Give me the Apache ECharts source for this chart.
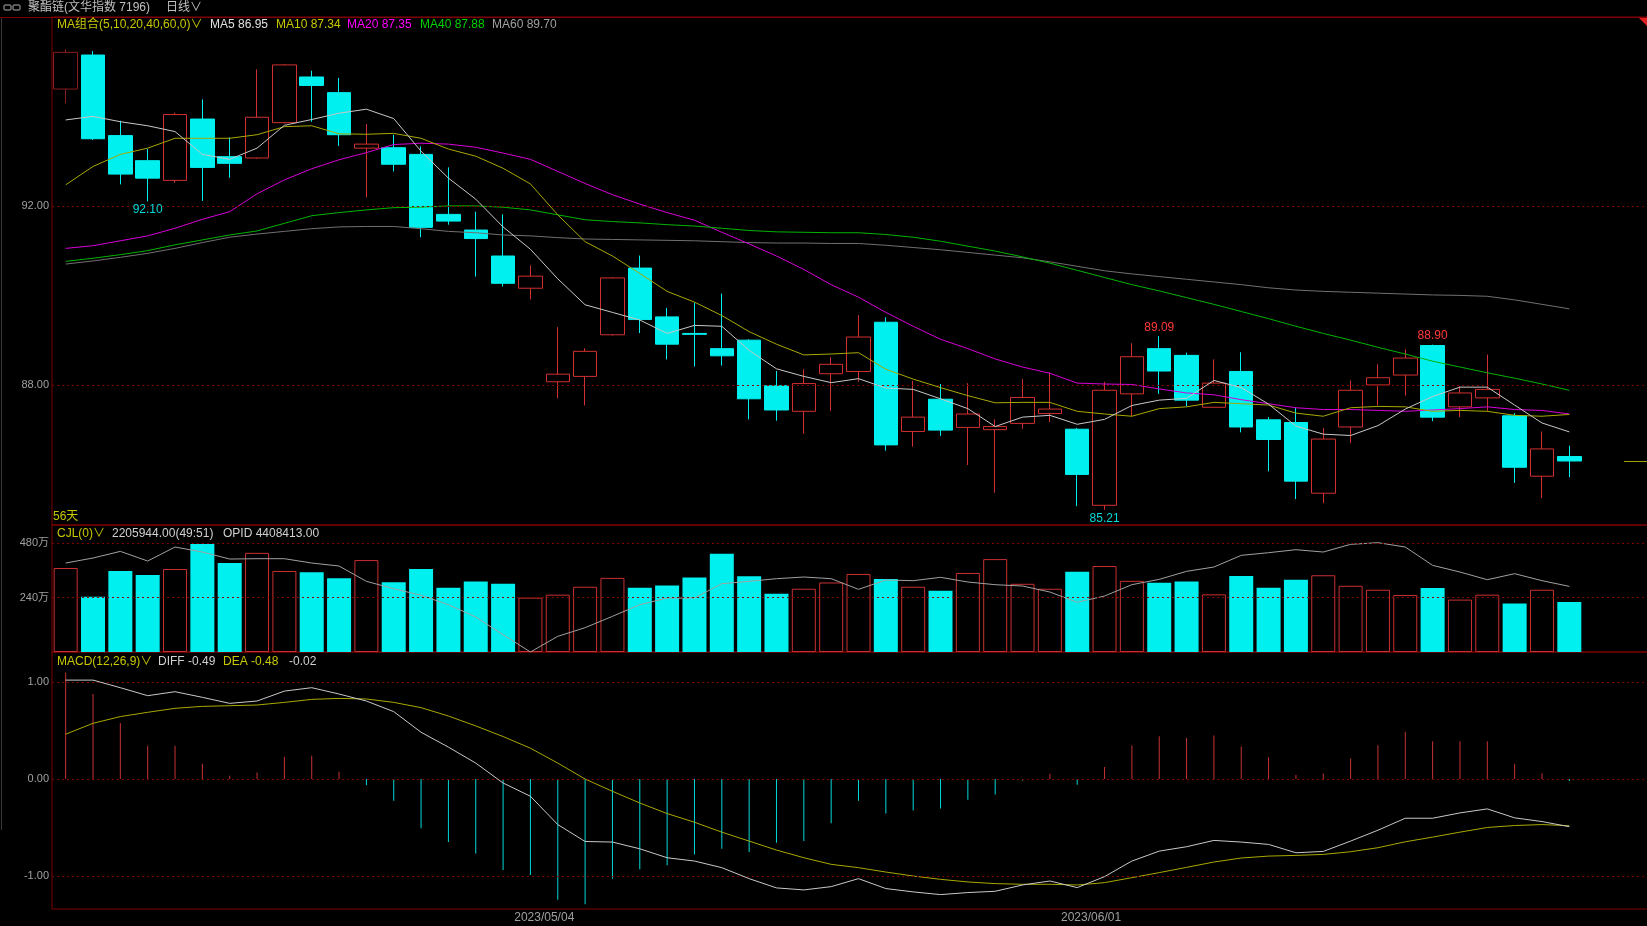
<!DOCTYPE html>
<html><head><meta charset="utf-8">
<script src="https://cdn.jsdelivr.net/npm/echarts@6/dist/echarts.min.js"></script>
<style>html,body{margin:0;padding:0;background:#000;}#c{width:1647px;height:926px;}</style>
</head><body><div id="c"></div>
<script>
// ---------- data ----------
const dates = [
'2023/04/04','2023/04/06','2023/04/07','2023/04/10','2023/04/11','2023/04/12','2023/04/13','2023/04/14','2023/04/17','2023/04/18',
'2023/04/19','2023/04/20','2023/04/21','2023/04/24','2023/04/25','2023/04/26','2023/04/27','2023/04/28','2023/05/04','2023/05/05',
'2023/05/08','2023/05/09','2023/05/10','2023/05/11','2023/05/12','2023/05/15','2023/05/16','2023/05/17','2023/05/18','2023/05/19',
'2023/05/22','2023/05/23','2023/05/24','2023/05/25','2023/05/26','2023/05/29','2023/05/30','2023/05/31','2023/06/01','2023/06/02',
'2023/06/05','2023/06/06','2023/06/07','2023/06/08','2023/06/09','2023/06/12','2023/06/13','2023/06/14','2023/06/15','2023/06/16',
'2023/06/19','2023/06/20','2023/06/21','2023/06/26','2023/06/27','2023/06/28'];
const blanks = [' ', '  ', '   '];
const open = [
94.61,95.37,93.57,93.01,92.57,93.94,93.10,93.07,93.86,94.88,
94.53,93.29,93.30,93.15,91.81,91.46,90.88,90.16,88.07,88.19,
89.12,90.61,89.52,89.15,88.81,89.00,87.98,87.41,88.25,88.30,
89.40,86.96,87.68,87.05,87.00,87.14,87.36,87.01,85.31,87.80,
88.81,88.66,87.50,88.30,87.22,87.16,85.58,87.06,88.00,88.22,
88.88,87.51,87.71,87.31,85.96,86.40];
const close = [
95.43,93.50,92.71,92.62,94.04,92.86,92.95,93.98,95.15,94.69,
93.59,93.38,92.93,91.52,91.66,91.27,90.27,90.43,88.24,88.75,
90.39,89.46,88.91,89.13,88.65,87.69,87.44,88.03,88.46,89.07,
86.66,87.28,86.99,87.35,87.07,87.72,87.46,86.00,87.88,88.63,
88.31,87.66,88.04,87.06,86.78,85.85,86.79,87.88,88.16,88.60,
87.28,87.82,87.90,86.16,86.57,86.30];
const low = [
94.29,93.47,92.48,92.10,92.52,92.11,92.63,93.05,93.84,93.88,
93.34,92.19,92.77,91.30,91.58,90.42,90.20,89.91,87.70,87.54,
89.10,89.16,88.57,88.41,88.43,87.23,87.20,86.91,87.42,88.07,
86.53,86.62,86.86,86.21,85.59,87.02,87.17,85.29,85.21,87.30,
87.80,87.52,87.50,86.94,86.07,85.45,85.36,86.70,87.54,87.76,
87.19,87.28,87.41,85.81,85.47,85.94];
const high = [
95.50,95.46,93.90,93.27,94.08,94.38,93.53,95.05,95.17,95.02,
94.86,93.83,93.59,93.33,92.86,91.87,91.81,90.67,89.29,88.82,
90.41,90.89,89.72,89.84,90.04,89.02,88.31,88.35,88.62,89.56,
89.51,88.09,88.02,88.04,87.23,88.13,88.28,87.04,88.07,88.93,
89.09,88.72,88.57,88.73,87.28,87.49,87.04,88.10,88.46,88.79,
88.90,87.97,88.68,87.37,86.96,86.64];
const ma5 = [
93.92,94.00,93.88,93.79,93.66,93.15,93.04,93.29,93.80,93.93,
94.07,94.16,93.95,93.22,92.62,92.15,91.53,91.03,90.37,89.79,
89.62,89.45,89.15,89.33,89.31,88.77,88.36,88.19,88.05,88.14,
87.93,87.90,87.69,87.47,87.07,87.28,87.32,87.12,87.23,87.54,
87.66,87.70,88.10,87.94,87.57,87.08,86.90,86.87,87.09,87.46,
87.74,87.95,87.95,87.55,87.15,86.95];
const ma10 = [
92.47,92.88,93.15,93.29,93.51,93.51,93.51,93.59,93.77,93.79,
93.61,93.60,93.62,93.51,93.27,93.11,92.84,92.49,91.80,91.20,
90.88,90.49,90.09,89.85,89.55,89.19,88.91,88.67,88.69,88.72,
88.35,88.13,87.94,87.76,87.60,87.61,87.61,87.41,87.35,87.30,
87.47,87.51,87.61,87.58,87.55,87.37,87.30,87.49,87.52,87.51,
87.41,87.43,87.41,87.32,87.30,87.34];
const ma20 = [
91.05,91.11,91.22,91.33,91.50,91.70,91.87,92.27,92.58,92.83,
93.03,93.19,93.37,93.40,93.38,93.31,93.18,93.04,92.77,92.50,
92.25,92.04,91.85,91.68,91.41,91.15,90.88,90.58,90.24,89.96,
89.62,89.31,89.02,88.81,88.58,88.40,88.26,88.04,88.02,88.01,
87.91,87.82,87.78,87.67,87.58,87.49,87.45,87.45,87.43,87.41,
87.44,87.47,87.51,87.45,87.43,87.35];
const ma40 = [
90.76,90.83,90.91,91.00,91.13,91.24,91.35,91.44,91.61,91.78,
91.85,91.91,91.96,91.97,92.00,92.00,91.97,91.91,91.80,91.69,
91.65,91.62,91.58,91.55,91.50,91.45,91.42,91.41,91.40,91.40,
91.36,91.30,91.21,91.10,90.99,90.86,90.72,90.56,90.40,90.24,
90.10,89.95,89.80,89.64,89.48,89.31,89.15,89.00,88.84,88.69,
88.53,88.40,88.27,88.15,88.02,87.88];
const ma60 = [
90.70,90.77,90.85,90.94,91.05,91.18,91.30,91.37,91.43,91.49,
91.53,91.54,91.54,91.49,91.43,91.40,91.35,91.33,91.29,91.26,
91.25,91.24,91.23,91.22,91.20,91.18,91.17,91.17,91.16,91.16,
91.12,91.07,91.02,90.96,90.90,90.84,90.75,90.65,90.55,90.48,
90.42,90.36,90.30,90.24,90.17,90.12,90.09,90.07,90.05,90.03,
90.01,90.00,89.98,89.90,89.80,89.70];
// volume and open interest, in 万
const volume = [
370.9,244.4,357.8,340.4,366.5,477.1,392.7,437.8,357.8,352.0,
325.8,405.8,308.4,366.5,283.6,311.3,301.1,240.0,253.1,288.0,
327.3,283.6,293.8,328.7,433.5,334.5,257.5,279.3,306.9,344.7,
322.9,288.0,270.5,349.1,410.2,301.1,279.3,354.9,379.6,314.2,
305.5,311.3,254.5,336.0,283.6,318.5,338.9,292.4,274.9,251.6,
282.2,231.3,253.1,213.8,274.9,220.6];
const opid = [
455.35,458.46,462.60,456.59,465.30,462.19,457.84,458.04,458.04,455.35,
453.48,443.95,439.39,435.24,429.44,421.77,410.78,400.00,409.74,415.13,
422.18,429.44,433.58,433.58,442.50,443.95,445.61,446.64,445.61,438.97,
444.78,444.36,446.44,443.53,441.87,441.05,437.31,430.89,434.83,441.87,
445.19,450.17,452.86,460.12,461.78,463.64,462.19,466.96,468.00,465.30,
453.90,449.75,444.98,448.72,444.36,440.84];
const macd = [
1.096,0.874,0.577,0.341,0.341,0.157,0.034,0.068,0.229,0.239,
0.075,-0.065,-0.222,-0.505,-0.648,-0.765,-0.935,-0.986,-1.242,-1.287,
-1.024,-0.928,-0.887,-0.775,-0.717,-0.751,-0.655,-0.638,-0.454,-0.222,
-0.355,-0.324,-0.304,-0.212,-0.160,-0.014,0.055,-0.058,0.123,0.345,
0.440,0.423,0.447,0.334,0.225,0.041,0.058,0.212,0.348,0.485,
0.389,0.389,0.389,0.157,0.058,-0.020];
const diff = [
1.017,1.017,0.939,0.857,0.898,0.840,0.778,0.802,0.904,0.939,
0.874,0.802,0.693,0.481,0.328,0.164,-0.041,-0.177,-0.468,-0.642,
-0.648,-0.717,-0.809,-0.843,-0.911,-1.024,-1.119,-1.140,-1.106,-1.024,
-1.126,-1.160,-1.188,-1.167,-1.154,-1.089,-1.048,-1.116,-1.003,-0.843,
-0.741,-0.696,-0.631,-0.648,-0.672,-0.758,-0.744,-0.638,-0.526,-0.403,
-0.403,-0.348,-0.307,-0.399,-0.437,-0.490];
const dea = [
0.461,0.573,0.642,0.686,0.727,0.747,0.754,0.761,0.788,0.819,
0.829,0.823,0.788,0.734,0.648,0.546,0.437,0.317,0.164,0.000,
-0.126,-0.246,-0.355,-0.444,-0.546,-0.638,-0.730,-0.809,-0.877,-0.911,
-0.956,-0.997,-1.031,-1.058,-1.075,-1.082,-1.082,-1.089,-1.065,-1.014,
-0.962,-0.908,-0.853,-0.812,-0.792,-0.785,-0.775,-0.747,-0.706,-0.645,
-0.597,-0.546,-0.498,-0.478,-0.468,-0.480];
const priceTicks = [92, 88];
const volTicks = [480, 240];
const macdTicks = [1, 0, -1];
const lowMarks = [3, 38];
const highMarks = [40, 50];

// ---------- styles ----------
const RED = '#d03030', DARKRED = '#8a1c1c', CYAN = '#00f0f0', BORDER = '#800000';
const FONT = '"Liberation Sans","Noto Sans CJK SC",sans-serif';
const GRAY = '#a0a0a0';
const cats = dates.concat(blanks);
const GRID_W = 1613; // 59 category slots, the last ones partly off the canvas

const chart = echarts.init(document.getElementById('c'), null, {renderer: 'canvas'});

function gridLines(ticks, fmt) {
  return {
    silent: true, symbol: 'none', animation: false,
    lineStyle: {color: BORDER, type: [2, 3], width: 1},
    label: {show: true, position: 'start', distance: 3, color: GRAY, fontSize: 11, fontFamily: FONT, formatter: p => fmt(p.value)},
    data: ticks.map(v => ({yAxis: v}))
  };
}

const candleData = open.map((o, i) => {
  const d = {value: [o, close[i], low[i], high[i]]};
  if (i === 0) d.itemStyle = {borderColor: DARKRED};
  return d;
});
const volData = volume.map((v, i) => close[i] > open[i]
  ? {value: v, itemStyle: {color: 'rgba(0,0,0,0)', borderColor: '#c83030', borderWidth: 1}}
  : {value: v, itemStyle: {color: CYAN}});
const macdData = macd.map(v => ({value: v, itemStyle: {color: v >= 0 ? '#c83232' : '#00d8d8'}}));

function line(data, color, xi, yi, z) {
  return {type: 'line', data: data, xAxisIndex: xi, yAxisIndex: yi, showSymbol: false, symbol: 'none',
    lineStyle: {color: color, width: 1}, itemStyle: {color: color}, silent: true, z: z || 3, animation: false};
}

const markPts = [];
lowMarks.forEach(i => markPts.push({coord: [dates[i], low[i]], value: low[i],
  label: {position: 'bottom', distance: 2, color: '#00d8d8'}}));
highMarks.forEach(i => markPts.push({coord: [dates[i], high[i]], value: high[i],
  label: {position: 'top', distance: 2, color: '#ff3a3a'}}));

function txt(text, x, y, color, size) {
  return {type: 'text', silent: true, style: {text: text, x: x, y: y, fill: color, font: (size || 12) + 'px ' + FONT, verticalAlign: 'middle'}};
}

function gridOpt(top, height) {
  return {left: 52, width: GRID_W, top: top, height: height, containLabel: false, outerBoundsMode: 'none',
    show: true, borderColor: BORDER, borderWidth: 1, backgroundColor: 'rgba(0,0,0,0)'};
}

const option = {
  backgroundColor: '#000',
  animation: false,
  grid: [gridOpt(17, 508), gridOpt(525, 127), gridOpt(652, 257)],
  xAxis: [0, 1, 2].map(g => ({
    type: 'category', gridIndex: g, data: cats, boundaryGap: true,
    axisLine: {show: false}, axisTick: {show: false}, splitLine: {show: false},
    axisLabel: g < 2 ? {show: false} : {
      show: true, color: GRAY, fontSize: 12, fontFamily: FONT, margin: 3, padding: [0, 27, 0, 0],
      interval: (idx, val) => idx > 0 && idx < dates.length && dates[idx].slice(5, 7) !== dates[idx - 1].slice(5, 7)
    }
  })),
  yAxis: [
    {type: 'value', gridIndex: 0, min: 84.87, max: 96.22, show: false, splitLine: {show: false}},
    {type: 'value', gridIndex: 1, min: 0, max: 560.8, show: false, splitLine: {show: false}},
    {type: 'value', gridIndex: 1, min: 400, max: 479, show: false, splitLine: {show: false}},
    {type: 'value', gridIndex: 2, min: -1.336, max: 1.306, show: false, splitLine: {show: false}}
  ],
  series: [
    {
      type: 'candlestick', xAxisIndex: 0, yAxisIndex: 0, data: candleData, barWidth: 24, silent: true,
      itemStyle: {color: 'rgba(0,0,0,0)', color0: CYAN, borderColor: RED, borderColor0: CYAN, borderWidth: 1},
      markLine: {
        silent: true, symbol: 'none', animation: false,
        lineStyle: {color: BORDER, type: [2, 3], width: 1},
        label: {show: true, position: 'start', distance: 3, color: GRAY, fontSize: 11, fontFamily: FONT, formatter: p => p.value.toFixed(2)},
        data: priceTicks.map(v => ({yAxis: v})).concat([[
          {coord: [blanks[1], close[close.length - 1]], lineStyle: {color: '#a0a000', type: 'solid'}, label: {show: false}},
          {coord: [blanks[2], close[close.length - 1]]}
        ]])
      },
      markPoint: {
        symbol: 'circle', symbolSize: 1, silent: true, animation: false,
        itemStyle: {color: 'rgba(0,0,0,0)'},
        label: {show: true, fontSize: 12, fontFamily: FONT, formatter: p => p.value.toFixed(2)},
        data: markPts
      }
    },
    line(ma5, '#c8c8c8', 0, 0, 6),
    line(ma10, '#a8a800', 0, 0, 5),
    line(ma20, '#d800d8', 0, 0, 4),
    line(ma40, '#00b400', 0, 0, 4),
    line(ma60, '#707070', 0, 0, 3),
    {
      type: 'bar', xAxisIndex: 1, yAxisIndex: 1, data: volData, barWidth: 24, silent: true,
      markLine: gridLines(volTicks, v => v + '万')
    },
    line(opid, '#a0a0a0', 1, 2, 4),
    {
      type: 'bar', xAxisIndex: 2, yAxisIndex: 3, data: macdData, barWidth: 1, silent: true,
      markLine: gridLines(macdTicks, v => v.toFixed(2))
    },
    line(diff, '#c8c8c8', 2, 3, 5),
    line(dea, '#a8a800', 2, 3, 4)
  ],
  graphic: [
    {type: 'line', silent: true, shape: {x1: 0, y1: 17.5, x2: 1647, y2: 17.5}, style: {stroke: BORDER, lineWidth: 1}},
    {type: 'line', silent: true, shape: {x1: 1.5, y1: 18, x2: 1.5, y2: 830}, style: {stroke: '#3a3a3a', lineWidth: 1}},
    {type: 'polygon', silent: true, shape: {points: [[1639, 18], [1647, 18], [1647, 26]]}, style: {fill: '#e02020'}},
    {type: 'rect', silent: true, shape: {x: 4, y: 5, width: 7, height: 5, r: 1}, style: {stroke: '#b0b0b0', fill: 'none', lineWidth: 1}},
    {type: 'rect', silent: true, shape: {x: 13, y: 5, width: 7, height: 5, r: 1}, style: {stroke: '#b0b0b0', fill: 'none', lineWidth: 1}},
    txt('聚酯链(文华指数 7196)', 28, 8, '#c0c0c0'),
    txt('日线∨', 166, 8, '#c0c0c0'),
    txt('MA组合(5,10,20,40,60,0)∨', 57, 25, '#c8c800'),
    txt('MA5 ' + ma5[ma5.length - 1].toFixed(2), 210, 25, '#e0e0e0'),
    txt('MA10 ' + ma10[ma10.length - 1].toFixed(2), 276, 25, '#c8c800'),
    txt('MA20 ' + ma20[ma20.length - 1].toFixed(2), 347, 25, '#ff00ff'),
    txt('MA40 ' + ma40[ma40.length - 1].toFixed(2), 420, 25, '#00d000'),
    txt('MA60 ' + ma60[ma60.length - 1].toFixed(2), 492, 25, '#a0a0a0'),
    txt(dates.length + '天', 53, 517, '#c8c800'),
    txt('CJL(0)∨', 57, 534, '#c8c800'),
    txt('2205944.00(49:51)', 112, 534, '#d0d0d0'),
    txt('OPID 4408413.00', 223, 534, '#d0d0d0'),
    txt('MACD(12,26,9)∨', 57, 662, '#c8c800'),
    txt('DIFF ' + diff[diff.length - 1].toFixed(2), 158, 662, '#d0d0d0'),
    txt('DEA ' + dea[dea.length - 1].toFixed(2), 223, 662, '#c8c800'),
    txt(macd[macd.length - 1].toFixed(2), 289, 662, '#d0d0d0')
  ]
};
chart.setOption(option);
</script>
</body></html>
